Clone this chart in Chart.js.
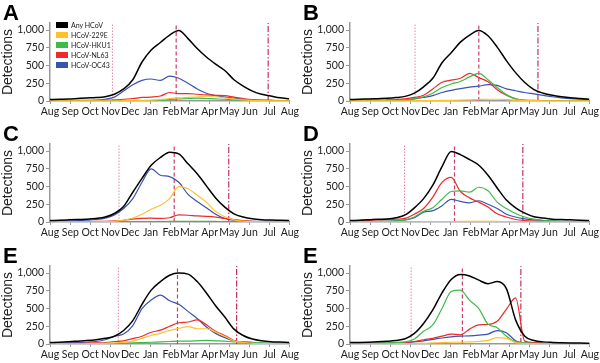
<!DOCTYPE html>
<html>
<head>
<meta charset="utf-8">
<script src="https://cdn.jsdelivr.net/npm/chart.js@4.4.1/dist/chart.umd.min.js"></script>
<style>
  body { margin: 0; background: #fff; }
  #wrap { position: relative; width: 600px; height: 363px; overflow: hidden; }
  .panel { position: absolute; width: 300px; height: 121px; }
  .panel canvas { position: absolute; left: 0; top: 0; }
  .letter { position: absolute; left: 3px; top: 2px; font: bold 22px "Liberation Sans", Arial, sans-serif; line-height: 1; color: #000; }
  .legend { position: absolute; left: 56px; top: 20px; font: 7px Lato, "Liberation Sans", Arial, sans-serif; color: #222; }
  .legend div { height: 10px; display: flex; align-items: center; }
  .legend span.sw { display: inline-block; width: 12px; height: 6px; margin-right: 3px; }
</style>
</head>
<body>
<div id="wrap"></div>
<script>
// ---------------- data ----------------
const monthLabels = ['Aug','Sep','Oct','Nov','Dec','Jan','Feb','Mar','Apr','May','Jun','Jul','Aug'];
const monthStartDays = [0, 31, 61, 92, 122, 153, 184, 212, 243, 273, 304, 334, 365];
const yTicks = [0, 250, 500, 750, 1000];
// days since Aug 1, one point every 2 weeks
const days = [0,14,28,42,56,70,84,98,112,126,140,154,168,182,196,210,224,238,252,266,280,294,308,322,336,350,364];

const seriesNames = ['Any HCoV', 'HCoV-229E', 'HCoV-HKU1', 'HCoV-NL63', 'HCoV-OC43'];
const seriesColors = ['#000000', '#ffc12a', '#3dbb48', '#ee2a2a', '#3a52b0'];

const panelLetters = ['A', 'B', 'C', 'D', 'E', 'E'];
// season onset / peak / offset (days since Aug 1)
const onsetDays  = [95, 99, 105, 83, 104, 93];
const peakDays   = [192, 196, 189, 159, 194, 171];
const offsetDays = [332, 286, 272, 263, 284, 260];

// panel A
const anyA  = [20,25,28,35,42,48,60,95,170,300,550,720,825,930,995,880,740,620,520,430,300,210,140,95,70,45,30];
const e229A = [2,2,2,2,2,2,3,3,4,5,8,12,20,35,45,50,55,60,60,45,30,15,8,5,3,2,2];
const hku1A = [2,2,2,2,2,2,2,2,2,2,2,5,10,20,30,35,40,35,30,25,15,8,4,3,2,2,2];
const nl63A = [3,3,3,4,5,6,10,15,25,35,50,55,70,120,105,105,95,85,80,75,55,35,20,12,8,5,4];
const oc43A = [5,5,5,8,10,12,25,55,140,230,290,310,290,350,320,250,170,110,75,55,40,25,15,10,8,5,5];

// panel B
const anyB  = [20,25,28,33,38,48,65,110,200,320,540,680,830,930,995,920,760,570,400,260,160,110,80,60,45,35,25];
const e229B = [2,2,2,2,2,2,3,4,5,6,8,10,12,15,20,25,25,20,12,8,5,3,3,2,2,2,2];
const hku1B = [3,3,3,4,5,8,15,35,60,110,190,240,275,340,390,300,190,90,30,10,5,4,3,3,3,2,2];
const nl63B = [10,12,12,12,15,20,30,50,80,170,265,295,320,390,330,270,160,80,30,12,8,5,5,4,4,3,3];
const oc43B = [5,5,5,6,8,10,18,30,50,75,120,150,175,195,210,230,220,170,145,120,100,80,60,45,33,25,20];

// panel C
const anyC  = [20,25,30,35,40,50,70,120,220,420,615,800,910,985,960,820,680,510,340,210,115,70,45,33,28,25,22];
const e229C = [2,2,2,2,2,3,5,10,25,55,110,180,235,330,500,470,380,280,150,75,30,12,6,4,3,2,2];
const hku1C = [3,3,3,3,3,3,3,3,4,4,5,5,6,8,10,10,10,9,8,6,5,4,3,3,3,3,3];
const nl63C = [5,5,5,5,6,8,10,15,25,40,50,55,50,60,100,95,85,80,70,50,35,20,10,6,5,5,5];
const oc43C = [10,12,15,18,25,35,55,100,190,330,560,750,660,640,560,390,290,200,110,50,25,15,10,8,8,8,8];

// panel D
const anyD  = [20,25,30,38,42,60,100,200,330,520,780,995,950,880,800,660,480,310,200,125,75,55,40,35,30,25,22];
const e229D = [2,2,2,2,2,2,3,3,4,4,5,6,8,8,10,10,8,6,5,4,3,3,2,2,2,2,2];
const hku1D = [5,5,6,8,10,15,30,70,150,200,320,430,440,420,490,440,280,190,120,70,40,25,15,10,8,6,5];
const nl63D = [15,18,22,28,33,40,50,110,190,350,560,630,430,340,280,210,115,70,35,20,12,8,6,5,4,4,4];
const oc43D = [5,5,6,8,10,15,30,60,140,160,230,320,290,270,300,250,190,110,70,45,30,20,12,8,6,5,5];

// panel E (left)
const anyE  = [20,25,32,40,48,60,80,110,190,330,560,760,880,970,1000,985,880,720,540,380,210,120,70,45,32,27,22];
const e229E = [2,2,3,3,4,5,8,15,25,40,80,120,150,190,220,245,215,215,170,110,45,20,10,6,4,3,3];
const hku1E = [5,5,5,5,5,6,8,10,12,15,20,25,30,35,40,40,45,50,45,40,30,35,25,15,10,8,8];
const nl63E = [5,5,8,10,12,15,20,35,45,75,110,165,195,250,300,310,340,270,180,120,50,20,12,8,6,5,5];
const oc43E = [10,12,15,20,25,35,60,110,140,260,500,620,690,610,560,460,360,240,150,90,45,25,15,10,8,8,8];

// panel E (right)
const anyF  = [20,22,25,30,38,50,75,150,290,480,720,910,980,960,900,850,880,780,340,110,50,30,22,18,15,13,12];
const e229F = [3,3,3,3,3,4,5,8,10,15,20,25,25,30,35,50,90,80,20,8,4,3,3,2,2,2,2];
const hku1F = [10,10,10,12,15,20,30,70,180,270,500,740,760,615,500,280,230,110,30,15,10,8,6,5,5,5,5];
const nl63F = [5,5,6,8,10,12,20,35,60,80,110,140,130,210,270,275,320,490,650,40,20,10,8,6,5,5,5];
const oc43F = [10,10,10,10,12,15,20,30,45,65,85,100,110,115,125,140,190,160,45,15,10,8,6,5,5,5,5];

const panelSeries = [
  [anyA, e229A, hku1A, nl63A, oc43A],
  [anyB, e229B, hku1B, nl63B, oc43B],
  [anyC, e229C, hku1C, nl63C, oc43C],
  [anyD, e229D, hku1D, nl63D, oc43D],
  [anyE, e229E, hku1E, nl63E, oc43E],
  [anyF, e229F, hku1F, nl63F, oc43F]
];

// ---------------- layout ----------------
const panelPos = [[0, 0], [300, 0], [0, 121], [300, 121], [0, 243], [300, 243]];
const tickFont = { family: "Lato, 'Liberation Sans', Arial, sans-serif", size: 10.5 };

Chart.defaults.animation = false;
Chart.defaults.color = '#222';

const wrap = document.getElementById('wrap');

function vline(x, color, dash, width) {
  return {
    data: [{ x: x, y: 0 }, { x: x, y: 1100 }],
    borderColor: color, borderWidth: width, borderDash: dash,
    pointRadius: 0, tension: 0, order: 10
  };
}

panelSeries.forEach((series, p) => {
  const div = document.createElement('div');
  div.className = 'panel';
  div.style.left = panelPos[p][0] + 'px';
  div.style.top = panelPos[p][1] + 'px';
  const cv = document.createElement('canvas');
  cv.width = 300; cv.height = 121;
  div.appendChild(cv);
  const letter = document.createElement('div');
  letter.className = 'letter';
  letter.textContent = panelLetters[p];
  div.appendChild(letter);
  wrap.appendChild(div);

  const datasets = [
    vline(onsetDays[p], '#e58aa3', [1.5, 1.5], 1),
    vline(peakDays[p], '#cf3d66', [4, 2.5], 1.2),
    vline(offsetDays[p], '#c4325c', [6, 2, 1.5, 2], 1.2)
  ];
  // colored lines first, black on top
  for (let s = 4; s >= 0; s--) {
    datasets.push({
      label: seriesNames[s],
      data: days.map((d, i) => ({ x: d, y: series[s][i] })),
      borderColor: seriesColors[s],
      borderWidth: s === 0 ? 1.5 : 1.2,
      pointRadius: 0,
      cubicInterpolationMode: 'monotone',
      order: s
    });
  }

  new Chart(cv, {
    type: 'line',
    data: { datasets: datasets },
    options: {
      responsive: false,
      layout: { padding: { top: 23, right: 10, left: 0, bottom: 0 } },
      plugins: { legend: { display: false }, tooltip: { enabled: false } },
      scales: {
        x: {
          type: 'linear', min: 0, max: 365,
          afterBuildTicks: axis => { axis.ticks = monthStartDays.map(v => ({ value: v })); },
          afterFit: axis => { axis.height = 20; },
          ticks: {
            autoSkip: false, maxRotation: 0, minRotation: 0, padding: 1,
            font: tickFont, color: '#222',
            callback: (v, i) => monthLabels[i]
          },
          grid: { drawOnChartArea: false, drawTicks: true, tickLength: 3, color: '#999' },
          border: { color: '#999', width: 1.5 }
        },
        y: {
          min: 0, max: 1100,
          afterBuildTicks: axis => { axis.ticks = yTicks.map(v => ({ value: v })); },
          afterFit: axis => { axis.width = 50; },
          ticks: {
            padding: 2, font: tickFont, color: '#222',
            callback: v => v.toLocaleString('en-US')
          },
          title: {
            display: true, text: 'Detections', padding: { top: 0, bottom: 0 },
            font: { family: "'Liberation Sans', Arial, sans-serif", size: 14 }, color: '#222'
          },
          grid: { drawOnChartArea: false, drawTicks: true, tickLength: 4, color: '#999' },
          border: { color: '#999', width: 1.5 }
        }
      }
    }
  });

  if (p === 0) {
    const lg = document.createElement('div');
    lg.className = 'legend';
    seriesNames.forEach((n, s) => {
      const row = document.createElement('div');
      const sw = document.createElement('span');
      sw.className = 'sw';
      sw.style.background = seriesColors[s];
      row.appendChild(sw);
      row.appendChild(document.createTextNode(n));
      lg.appendChild(row);
    });
    div.appendChild(lg);
  }
});
</script>
</body>
</html>
